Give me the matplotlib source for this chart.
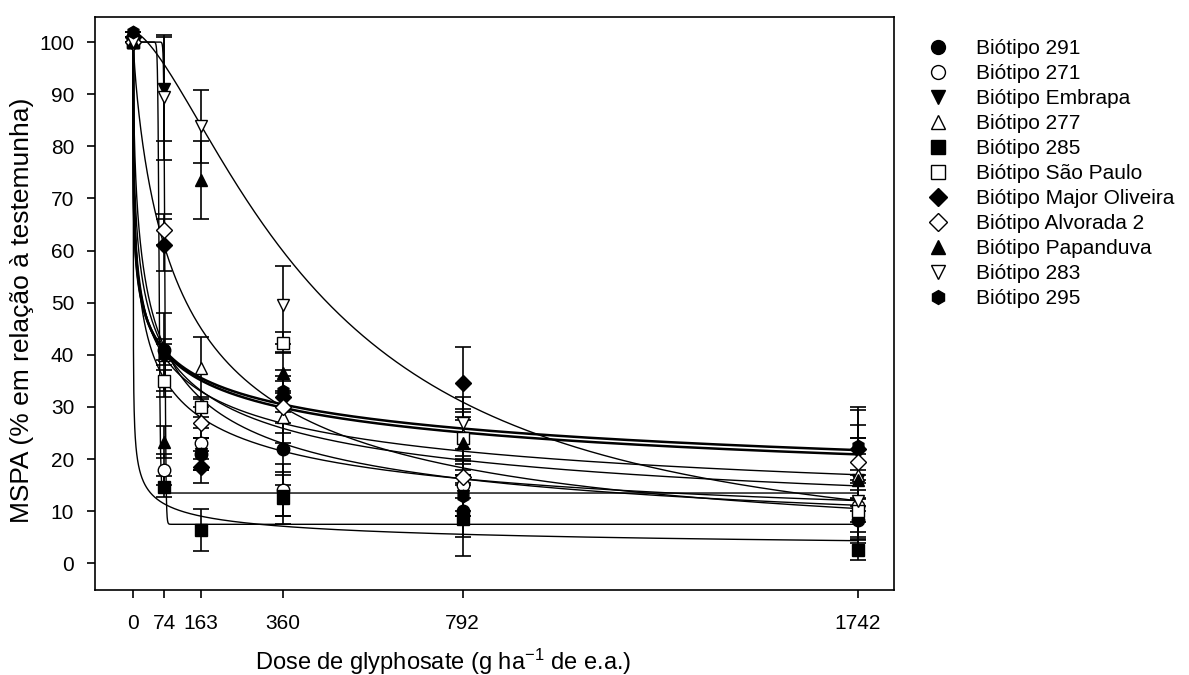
import numpy as np
import matplotlib
matplotlib.use("Agg")
import matplotlib.pyplot as plt
from matplotlib.lines import Line2D

plt.rcParams['font.family'] = ['Liberation Sans', 'DejaVu Sans']
plt.rcParams['mathtext.default'] = 'regular'

# --- Data ---
doses = [0, 74, 163, 360, 792, 1742]

labels = ['Biótipo 291', 'Biótipo 271', 'Biótipo Embrapa', 'Biótipo 277', 'Biótipo 285',
          'Biótipo São Paulo', 'Biótipo Major Oliveira', 'Biótipo Alvorada 2',
          'Biótipo Papanduva', 'Biótipo 283', 'Biótipo 295']

mspa_291 = [101, 41, 21, 22, 10, 8.4]
mspa_271 = [100, 18, 23, 14, 15, 11]
mspa_embrapa = [101, 91, 21, 13, 13, 16]
mspa_277 = [100, 40, 37.5, 28, 24.7, 17]
mspa_285 = [100, 14.7, 6.4, 12.5, 8.5, 2.6]
mspa_sp = [100, 35, 30, 42.3, 24, 10]
mspa_mo = [101, 61, 18.5, 32, 34.6, 22]
mspa_a2 = [100, 64, 27, 30, 16.6, 19.5]
mspa_pap = [100, 23.3, 73.6, 36.6, 23, 16]
mspa_283 = [100, 89.4, 83.8, 49.6, 27, 12]
mspa_295 = [102, 40, 21, 33, 13, 22.5]

err_291 = [0, 2, 3, 7, 5, 4]
err_271 = [0, 3, 3, 5, 5, 6]
err_embrapa = [0, 10, 3, 4, 4, 5]
err_277 = [0, 8, 6, 5, 5, 7]
err_285 = [0, 2, 4, 5, 7, 2]
err_sp = [0, 2, 2, 2, 5, 6]
err_mo = [0, 5, 3, 5, 7, 8]
err_a2 = [0, 3, 3, 5, 4, 7]
err_pap = [0, 3, 7.5, 4, 5, 8]
err_283 = [0, 12, 7, 7.5, 5, 6]
err_295 = [0, 2, 3, 3, 4, 7]

# fitted log-logistic parameters (d, c, e, b): y = c + (d - c) / (1 + (x / e) ** b)
fit_291 = (100, 0, 21, 0.29)
fit_271 = (100, 13.5, 62, 40)
fit_embrapa = (100, 7.5, 76, 60)
fit_277 = (100, 0, 24, 0.37)
fit_285 = (100, 0, 0.15, 0.33)
fit_sp = (100, 0, 33, 0.44)
fit_mo = (100, 0, 128, 0.82)
fit_a2 = (100, 0, 19, 0.44)
fit_pap = (100, 0, 40, 0.55)
fit_283 = (102, 0, 455, 1.5)
fit_295 = (102, 0, 19, 0.30)

series = [
    (mspa_291, err_291, fit_291, 'o', 'black', 1.8),
    (mspa_271, err_271, fit_271, 'o', 'white', 1.0),
    (mspa_embrapa, err_embrapa, fit_embrapa, 'v', 'black', 1.0),
    (mspa_277, err_277, fit_277, '^', 'white', 1.0),
    (mspa_285, err_285, fit_285, 's', 'black', 1.0),
    (mspa_sp, err_sp, fit_sp, 's', 'white', 1.0),
    (mspa_mo, err_mo, fit_mo, 'D', 'black', 1.0),
    (mspa_a2, err_a2, fit_a2, 'D', 'white', 1.0),
    (mspa_pap, err_pap, fit_pap, '^', 'black', 1.0),
    (mspa_283, err_283, fit_283, 'v', 'white', 1.0),
    (mspa_295, err_295, fit_295, 'h', 'black', 1.8),
]


def loglogistic(x, d, c, e, b):
    return c + (d - c) / (1 + (x / e) ** b)


fig = plt.figure(figsize=(11.89, 6.75), dpi=100)
ax = fig.add_axes([95 / 1189, 1 - 590 / 675, (894 - 95) / 1189, (590 - 17) / 675])

xs = np.linspace(0, 1742, 4000)
for vals, errs, fit, mk, fc, lw in series:
    ax.plot(xs, loglogistic(xs, *fit), color='black', linewidth=lw, zorder=2)

for vals, errs, fit, mk, fc, lw in series:
    ax.errorbar(doses, vals, yerr=errs, fmt='none', ecolor='black',
                elinewidth=1.2, capsize=6, capthick=1.2, zorder=3)
    ax.plot(doses, vals, linestyle='none', marker=mk, markersize=9 if mk != 'D' else 8,
            markerfacecolor=fc, markeredgecolor='black', markeredgewidth=1.0, zorder=4)

ax.set_xlim(-92, 1829)
ax.set_ylim(-5.1, 104.8)
ax.set_xticks(doses)
ax.set_yticks(range(0, 101, 10))
ax.tick_params(axis='both', direction='out', length=6, width=1.2, labelsize=15,
               top=False, right=False)
ax.tick_params(axis='x', pad=11)
ax.tick_params(axis='y', pad=9)
for sp in ax.spines.values():
    sp.set_linewidth(1.2)

ax.set_xlabel('Dose de glyphosate (g ha$^{-1}$ de e.a.)', fontsize=17)
ax.set_ylabel('MSPA (% em relação à testemunha)', fontsize=19)
ax.xaxis.set_label_coords((443 - 95) / 799, -(662 - 590) / 573)
ax.yaxis.set_label_coords(-(95 - 22) / 799, (590 - 310) / 573)
ax.xaxis.label.set_va('center')
ax.yaxis.label.set_va('center')

handles = [Line2D([], [], linestyle='none', marker=mk, markersize=10 if mk != 'D' else 9,
                  markerfacecolor=fc, markeredgecolor='black')
           for vals, errs, fit, mk, fc, lw in series]
fig.legend(handles, labels, loc='upper left', bbox_to_anchor=(928 / 1189, 1 - 39 / 675),
           frameon=False, fontsize=15, labelspacing=0.29, handletextpad=1.3,
           handlelength=1.0, borderaxespad=0, borderpad=0)

fig.savefig('out.png', dpi=100)
